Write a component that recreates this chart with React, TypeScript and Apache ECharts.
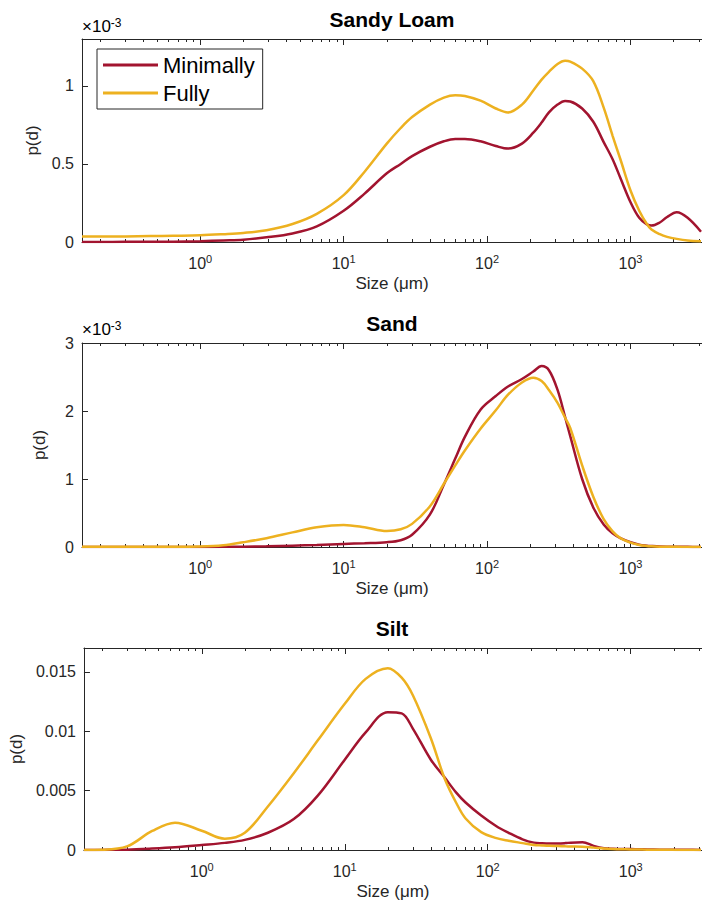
import React, { useEffect, useRef } from "react";
import * as echarts from "echarts";

// Particle size (µm) sample points
const sizes = [0.15, 0.2, 0.3, 0.45, 0.65, 1, 1.45, 2, 2.9, 4.4, 6.5, 10, 14, 20, 25, 30, 40, 50, 60, 70, 90, 115, 140, 175, 210, 240, 270, 310, 350, 380, 460, 550, 650, 750, 850, 1000, 1150, 1300, 1400, 1600, 1800, 2100, 2500, 3100];

// Sandy Loam, p(d) in units of 1e-3
const sandyLoamMinimally = [0, 0, 0.001, 0.001, 0.002, 0.005, 0.01, 0.015, 0.03, 0.055, 0.1, 0.2, 0.31, 0.44, 0.5, 0.55, 0.61, 0.645, 0.66, 0.66, 0.645, 0.615, 0.598, 0.63, 0.7, 0.765, 0.83, 0.88, 0.903, 0.9, 0.855, 0.77, 0.64, 0.53, 0.41, 0.255, 0.155, 0.113, 0.105, 0.125, 0.16, 0.19, 0.155, 0.066];
const sandyLoamFully = [0.035, 0.035, 0.036, 0.038, 0.04, 0.043, 0.05, 0.058, 0.075, 0.115, 0.18, 0.3, 0.45, 0.63, 0.73, 0.8, 0.88, 0.925, 0.94, 0.935, 0.905, 0.855, 0.83, 0.88, 0.97, 1.04, 1.09, 1.14, 1.16, 1.155, 1.11, 1.03, 0.86, 0.68, 0.53, 0.33, 0.2, 0.115, 0.08, 0.05, 0.033, 0.02, 0.01, 0.005];

// Sand, p(d) in units of 1e-3
const sandMinimally = [0, 0, 0, 0, 0, 0, 0.002, 0.005, 0.01, 0.02, 0.03, 0.045, 0.055, 0.07, 0.1, 0.18, 0.48, 0.92, 1.3, 1.62, 2.02, 2.22, 2.36, 2.47, 2.58, 2.66, 2.6, 2.31, 1.91, 1.63, 1.0, 0.58, 0.33, 0.2, 0.13, 0.07, 0.035, 0.02, 0.015, 0.008, 0.005, 0.003, 0.002, 0.001];
const sandFully = [0.002, 0.002, 0.002, 0.002, 0.002, 0.006, 0.025, 0.07, 0.13, 0.215, 0.29, 0.325, 0.29, 0.235, 0.26, 0.34, 0.6, 0.93, 1.2, 1.42, 1.74, 2.01, 2.24, 2.42, 2.49, 2.44, 2.31, 2.12, 1.9, 1.75, 1.2, 0.74, 0.41, 0.23, 0.13, 0.065, 0.03, 0.015, 0.01, 0.005, 0.003, 0.002, 0.001, 0.001];

// Silt, p(d) in units of 1e-3
const siltMinimally = [0, 0.01, 0.03, 0.12, 0.23, 0.42, 0.6, 0.85, 1.45, 2.6, 4.6, 7.6, 9.9, 11.6, 11.5, 10.2, 7.6, 6.1, 4.85, 4.0, 2.9, 2.0, 1.45, 0.9, 0.62, 0.57, 0.55, 0.55, 0.58, 0.62, 0.65, 0.35, 0.15, 0.1, 0.09, 0.08, 0.06, 0.05, 0.04, 0.03, 0.03, 0.02, 0.02, 0.01];
const siltFully = [0, 0.02, 0.3, 1.6, 2.3, 1.62, 0.95, 1.45, 3.66, 6.46, 9.25, 12.3, 14.4, 15.3, 14.5, 13.0, 9.4, 6.0, 4.0, 2.65, 1.5, 1.0, 0.78, 0.58, 0.42, 0.38, 0.35, 0.33, 0.31, 0.3, 0.28, 0.2, 0.12, 0.08, 0.06, 0.05, 0.04, 0.03, 0.03, 0.02, 0.02, 0.01, 0.01, 0.01];

const UNIT = 1e-3;

const titles = ["Sandy Loam", "Sand", "Silt"];
const seriesNames = ["Minimally", "Fully"];
const panelData = [
  [sandyLoamMinimally, sandyLoamFully],
  [sandMinimally, sandFully],
  [siltMinimally, siltFully],
];

const xMajorTicks = [1, 10, 100, 1000];
const xMinorTicks = [0.2, 0.3, 0.4, 0.5, 0.6, 0.7, 0.8, 0.9, 2, 3, 4, 5, 6, 7, 8, 9, 20, 30, 40, 50, 60, 70, 80, 90, 200, 300, 400, 500, 600, 700, 800, 900, 2000, 3000];
const yTicks = [
  [0, 0.0005, 0.001],
  [0, 0.001, 0.002, 0.003],
  [0, 0.005, 0.01, 0.015],
];
const yMax = [0.0013, 0.003, 0.017];
const yLabelScale = [1e3, 1e3, 1];

const X_MIN = 0.15;
const X_MAX = 3150;

const COLORS = ["#A2142F", "#EDB120"];
const AX = "#262626";
const FONT = "'Liberation Sans', Arial, Helvetica, sans-serif";

const gridTops = [39, 343, 648];
const gridHeights = [203, 204, 202];

export default function App() {
  const ref = useRef<HTMLDivElement>(null);

  useEffect(() => {
    if (!ref.current) return;
    const chart = echarts.init(ref.current, null, { renderer: "svg" });

    const grids = gridTops.map((top, i) => ({
      left: 82,
      top,
      right: 0,
      height: gridHeights[i],
      containLabel: false,
    }));

    const xAxes: any[] = [];
    const yAxes: any[] = [];
    const series: any[] = [];

    gridTops.forEach((_, i) => {
      const base = {
        type: "log",
        logBase: 10,
        min: X_MIN,
        max: X_MAX,
        gridIndex: i,
        splitLine: { show: false },
        minorSplitLine: { show: false },
      };
      xAxes.push({
        ...base,
        position: "bottom",
        axisLine: { show: true, lineStyle: { color: AX, width: 1 } },
        axisTick: { show: true, inside: true, length: 6, customValues: xMajorTicks, lineStyle: { color: AX } },
        axisLabel: {
          customValues: xMajorTicks,
          margin: 11,
          color: AX,
          formatter: (v: number) => `{b|10}{s|${Math.round(Math.log10(v))}}`,
          rich: {
            b: { fontSize: 16, fontFamily: FONT, color: AX, lineHeight: 20 },
            s: { fontSize: 11, fontFamily: FONT, color: AX, verticalAlign: "top", lineHeight: 10 },
          },
        },
        name: "Size (μm)",
        nameLocation: "middle",
        nameGap: 33,
        nameTextStyle: { fontSize: 17, fontFamily: FONT, color: AX },
      });
      xAxes.push({
        ...base,
        position: "bottom",
        axisLine: { show: false },
        axisTick: { show: true, inside: true, length: 3, customValues: xMinorTicks, lineStyle: { color: AX } },
        axisLabel: { show: false },
      });
      xAxes.push({
        ...base,
        position: "top",
        axisLine: { show: true, lineStyle: { color: AX, width: 1 } },
        axisTick: { show: true, inside: true, length: 6, customValues: xMajorTicks, lineStyle: { color: AX } },
        axisLabel: { show: false },
      });
      xAxes.push({
        ...base,
        position: "top",
        axisLine: { show: false },
        axisTick: { show: true, inside: true, length: 3, customValues: xMinorTicks, lineStyle: { color: AX } },
        axisLabel: { show: false },
      });

      const sc = yLabelScale[i];
      yAxes.push({
        type: "value",
        gridIndex: i,
        min: 0,
        max: yMax[i],
        position: "left",
        splitLine: { show: false },
        axisLine: { show: true, lineStyle: { color: AX, width: 1 } },
        axisTick: { show: true, inside: true, length: 6, customValues: yTicks[i], lineStyle: { color: AX } },
        axisLabel: {
          customValues: yTicks[i],
          margin: 8,
          color: AX,
          fontSize: 16,
          fontFamily: FONT,
          formatter: (v: number) => String(+(v * sc).toPrecision(6)),
        },
        name: "p(d)",
        nameLocation: "middle",
        nameGap: 34,
        nameTextStyle: { fontSize: 17, fontFamily: FONT, color: AX },
      });

      panelData[i].forEach((vals, k) => {
        series.push({
          type: "line",
          name: seriesNames[k],
          xAxisIndex: i * 4,
          yAxisIndex: i,
          data: sizes.map((s, j) => [s, vals[j] * UNIT]),
          showSymbol: false,
          symbol: "none",
          smooth: 0.35,
          lineStyle: { color: COLORS[k], width: 2.5 },
          itemStyle: { color: COLORS[k] },
          z: 2 + k,
        });
      });
    });

    const expRich = {
      a: { fontSize: 17, fontFamily: FONT, color: AX, lineHeight: 19 },
      b: { fontSize: 12, fontFamily: FONT, color: AX, verticalAlign: "top", lineHeight: 11 },
    };

    chart.setOption({
      animation: false,
      backgroundColor: "#ffffff",
      title: titles.map((t, i) => ({
        text: t,
        left: 392,
        top: gridTops[i] - 30,
        textAlign: "center",
        padding: 0,
        textStyle: { fontSize: 21, fontWeight: "bold", fontFamily: FONT, color: "#000" },
      })),
      legend: {
        data: seriesNames,
        left: 97,
        top: 49,
        orient: "vertical",
        icon: "rect",
        itemWidth: 55,
        itemHeight: 3,
        itemGap: 6,
        padding: [5, 8, 5, 6],
        borderColor: AX,
        borderWidth: 1,
        backgroundColor: "#fff",
        selectedMode: false,
        textStyle: { fontSize: 22, fontFamily: FONT, color: "#000", lineHeight: 22 },
      },
      grid: grids,
      xAxis: xAxes,
      yAxis: yAxes,
      series,
      graphic: [
        { type: "text", left: 82, top: 17, style: { text: "{a|×10}{b|-3}", rich: expRich } },
        { type: "text", left: 82, top: 320, style: { text: "{a|×10}{b|-3}", rich: expRich } },
      ],
    });

    return () => chart.dispose();
  }, []);

  return <div ref={ref} style={{ position: "absolute", left: 0, top: 0, width: 702, height: 904 }} />;
}
